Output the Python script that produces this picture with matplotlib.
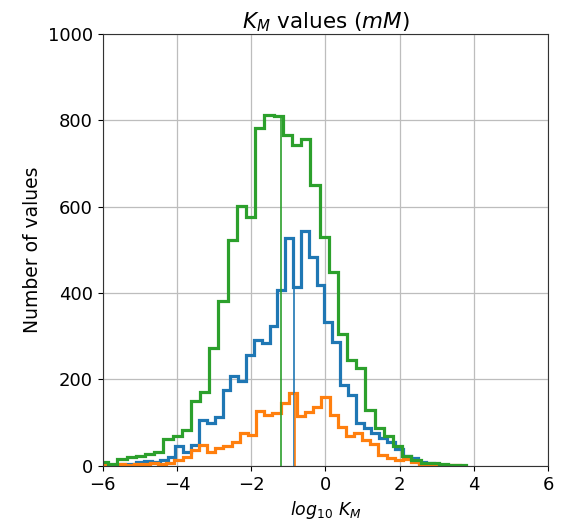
import numpy as np
import matplotlib
matplotlib.use("Agg")
import matplotlib.pyplot as plt

# bin edges per series
green_edges = np.linspace(-6.1, 3.8, 41)
blue_edges = np.linspace(-5.52, 3.14, 42)
orange_edges = np.linspace(-6.05, 3.63, 45)

green_counts = [8, 5, 15, 20, 23, 28, 32, 62, 68, 83, 150, 172, 272, 382, 523, 602,
                576, 782, 812, 810, 766, 743, 758, 650, 530, 449, 305, 245, 226, 130,
                88, 68, 45, 22, 14, 7, 6, 5, 2, 2]
blue_counts = [4, 5, 8, 12, 8, 14, 20, 45, 33, 48, 106, 99, 114, 176, 208, 197,
               256, 291, 285, 324, 407, 528, 415, 545, 484, 418, 334, 287, 187, 164,
               99, 87, 76, 65, 55, 40, 22, 18, 10, 6, 3]
orange_counts = [3, 2, 4, 3, 5, 4, 6, 5, 6, 14, 20, 36, 48, 33, 41, 46,
                 55, 75, 72, 126, 118, 122, 145, 168, 115, 125, 137, 160, 118, 91,
                 68, 76, 60, 50, 24, 18, 14, 15, 8, 4, 3, 2, 2, 1]

# medians (log10 K_M)
blue_median = -0.84
orange_median = -0.83
green_median = -1.21

c_blue, c_orange, c_green = "#1f77b4", "#ff7f0e", "#2ca02c"

plt.rcParams["font.size"] = 13
fig = plt.figure(figsize=(5.65, 5.24), dpi=100)
ax = fig.add_axes([0.182, 0.111, 0.788, 0.824])

series = [
    (blue_edges, blue_counts, blue_median, c_blue),
    (orange_edges, orange_counts, orange_median, c_orange),
    (green_edges, green_counts, green_median, c_green),
]

for edges, counts, med, col in series:
    ax.stairs(counts, edges, baseline=0, fill=False, color=col, lw=2.3)

# median markers
for edges, counts, med, col in series:
    i = np.searchsorted(edges, med) - 1
    ax.vlines(med, 0, counts[i], color=col, lw=1.2)

ax.set_xlim(-6, 6)
ax.set_ylim(0, 1000)
ax.set_xticks(np.arange(-6, 7, 2))
ax.set_yticks(np.arange(0, 1001, 200))
ax.grid(True, color="#bdbdbd", lw=0.9)
ax.set_axisbelow(True)
for s in ax.spines.values():
    s.set_color("#333333")

ax.set_title(r"$K_M$ values ($mM$)", fontsize=15.5, pad=4)
ax.set_xlabel(r"$log_{10}\ K_M$", fontsize=12.5)
ax.set_ylabel("Number of values", fontsize=13.5)

fig.savefig("out.png", dpi=100)
